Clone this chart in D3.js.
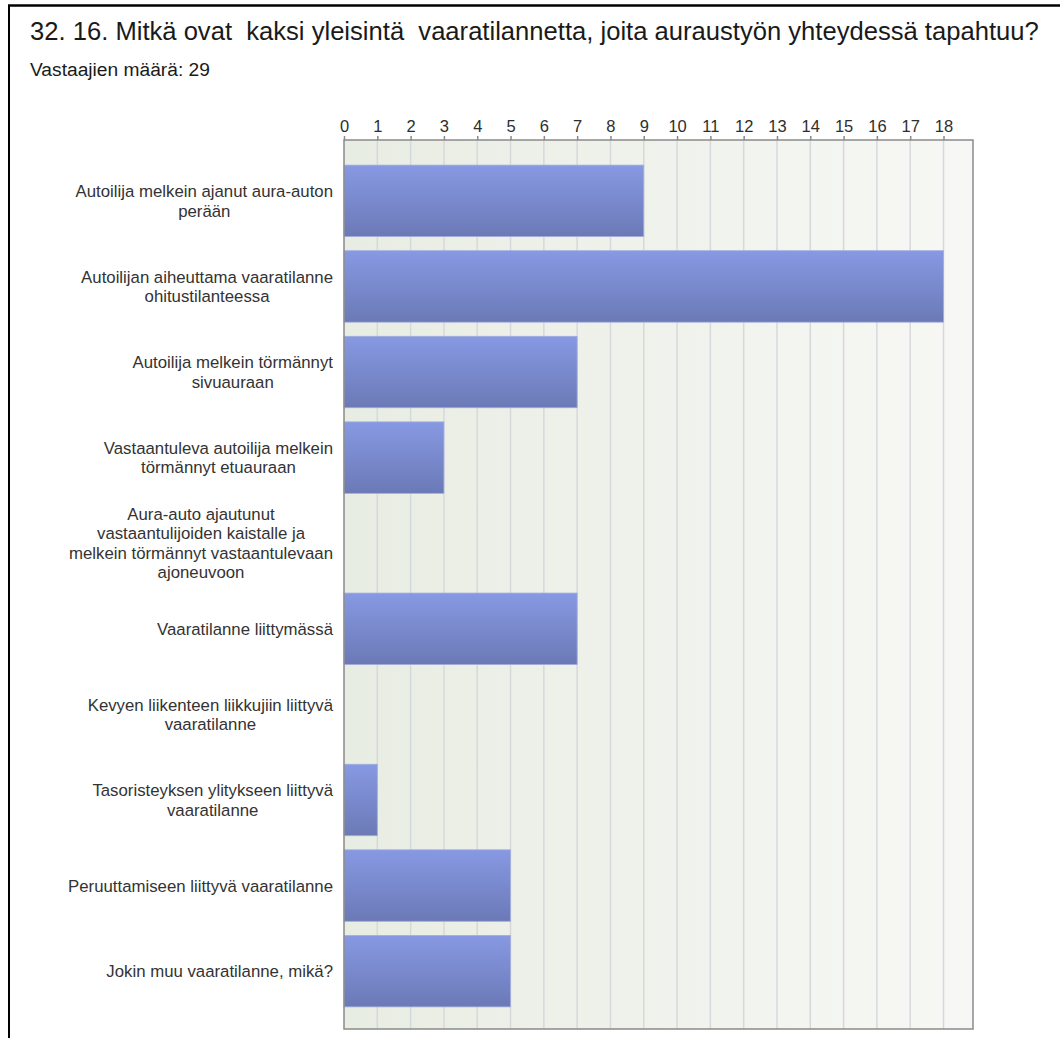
<!DOCTYPE html>
<html>
<head>
<meta charset="utf-8">
<script src="https://cdn.jsdelivr.net/npm/d3@7"></script>
<style>
  body { margin: 0; background: #fff; }
  svg { display: block; font-family: "Liberation Sans", Arial, sans-serif; }
</style>
</head>
<body>
<svg width="1060" height="1038"></svg>
<script>
var title = "32. 16. Mitkä ovat  kaksi yleisintä  vaaratilannetta, joita auraustyön yhteydessä tapahtuu?";
var subtitle = "Vastaajien määrä: 29";

// category labels, line breaks as in the picture
var categories = [
    "Autoilija melkein ajanut aura-auton\nperään",
    "Autoilijan aiheuttama vaaratilanne\nohitustilanteessa",
    "Autoilija melkein törmännyt\nsivuauraan",
    "Vastaantuleva autoilija melkein\ntörmännyt etuauraan",
    "Aura-auto ajautunut\nvastaantulijoiden kaistalle ja\nmelkein törmännyt vastaantulevaan\najoneuvoon",
    "Vaaratilanne liittymässä",
    "Kevyen liikenteen liikkujiin liittyvä\nvaaratilanne",
    "Tasoristeyksen ylitykseen liittyvä\nvaaratilanne",
    "Peruuttamiseen liittyvä vaaratilanne",
    "Jokin muu vaaratilanne, mikä?"
];
var values = [9, 18, 7, 3, 0, 7, 0, 1, 5, 5];
var tickValues = d3.range(0, 19);

var svg = d3.select('svg');
var plot = {left: 344, right: 973, top: 140, bottom: 1029};

// frame
svg.append('line').attr('x1', 8).attr('x2', 1060).attr('y1', 5.5).attr('y2', 5.5)
    .attr('stroke', '#000').attr('stroke-width', 2.5);
svg.append('line').attr('x1', 9).attr('x2', 9).attr('y1', 5).attr('y2', 1038)
    .attr('stroke', '#000').attr('stroke-width', 2);

svg.append('text')
    .attr('x', 30).attr('y', 40)
    .attr('font-size', 25.6)
    .attr('fill', '#1a1a1a')
    .style('white-space', 'pre')
    .text(title);

svg.append('text')
    .attr('x', 30).attr('y', 76)
    .attr('font-size', 19.2)
    .attr('fill', '#1a1a1a')
    .text(subtitle);

var defs = svg.append('defs');
var bg = defs.append('linearGradient').attr('id', 'bg').attr('x1', 0).attr('x2', 1).attr('y1', 0).attr('y2', 0);
bg.append('stop').attr('offset', 0).attr('stop-color', '#e8ede3');
bg.append('stop').attr('offset', 1).attr('stop-color', '#f7f8f5');
var bar = defs.append('linearGradient').attr('id', 'bar').attr('x1', 0).attr('x2', 0).attr('y1', 0).attr('y2', 1);
bar.append('stop').attr('offset', 0).attr('stop-color', '#8799e3');
bar.append('stop').attr('offset', 1).attr('stop-color', '#6b79b6');

var x = d3.scaleLinear().domain([0, 18]).range([plot.left, 943.5]);
var y = d3.scaleBand()
    .domain(d3.range(categories.length))
    .range([plot.top + 2, plot.bottom + 1])
    .paddingInner(0.165)
    .paddingOuter(0.27);

svg.append('rect')
    .attr('x', plot.left).attr('y', plot.top)
    .attr('width', plot.right - plot.left).attr('height', plot.bottom - plot.top)
    .attr('fill', 'url(#bg)');

// vertical grid
svg.append('g').selectAll('line')
    .data(tickValues.slice(1))
    .enter().append('line')
    .attr('x1', function (d) { return x(d); })
    .attr('x2', function (d) { return x(d); })
    .attr('y1', plot.top).attr('y2', plot.bottom)
    .attr('stroke', '#d7d8dc').attr('stroke-width', 1.5);

// bars (zero values drawn nothing)
svg.append('g').selectAll('rect')
    .data(d3.range(values.length).filter(function (i) { return values[i] > 0; }))
    .enter().append('rect')
    .attr('x', x(0))
    .attr('y', function (i) { return y(i); })
    .attr('width', function (i) { return x(values[i]) - x(0); })
    .attr('height', y.bandwidth())
    .attr('fill', 'url(#bar)')
    .attr('stroke', '#a3acdc')
    .attr('stroke-width', 0.8);

// plot border
svg.append('rect')
    .attr('x', plot.left).attr('y', plot.top)
    .attr('width', plot.right - plot.left).attr('height', plot.bottom - plot.top)
    .attr('fill', 'none').attr('stroke', '#8a8a8a').attr('stroke-width', 1.5);

// top axis
var axis = svg.append('g')
    .attr('transform', 'translate(0,' + plot.top + ')')
    .call(d3.axisTop(x).tickValues(tickValues).tickSize(4).tickSizeOuter(0).tickPadding(4));
axis.select('.domain').remove();
axis.selectAll('.tick line').attr('stroke', '#8a8a8a').attr('stroke-width', 1.5);
axis.selectAll('.tick text')
    .attr('font-size', 16.5)
    .attr('font-family', '"Liberation Sans", Arial, sans-serif')
    .attr('fill', '#2e2e2e');

// category labels: lines centred within a block that is right-aligned
var lineH = 19.5;
var labels = svg.append('g').selectAll('text')
    .data(categories)
    .enter().append('text')
    .attr('font-size', 16.8)
    .attr('fill', '#333')
    .attr('text-anchor', 'middle');

labels.each(function (d, i) {
    var t = d3.select(this);
    var lines = d.split('\n');
    var cy = y(i) + y.bandwidth() / 2;
    var y0 = cy - (lines.length - 1) * lineH / 2 + 6;
    lines.forEach(function (l, k) {
        t.append('tspan').attr('y', y0 + k * lineH).text(l);
    });
    var w = 0;
    t.selectAll('tspan').each(function () {
        w = Math.max(w, this.getComputedTextLength());
    });
    t.selectAll('tspan').attr('x', 333 - w / 2);
});
</script>
</body>
</html>
